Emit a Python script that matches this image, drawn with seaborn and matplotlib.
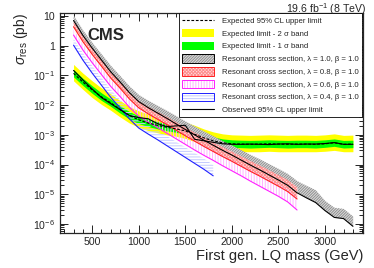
import numpy as np
import pandas as pd
import matplotlib
matplotlib.use("Agg")
import matplotlib.pyplot as plt
import seaborn as sns
from matplotlib.patches import Patch
from matplotlib.lines import Line2D
from matplotlib.ticker import FixedLocator, FixedFormatter, MultipleLocator

# ---- data, cross sections in pb ----
mass_lim = list(range(300, 3301, 100))

expected = [0.118, 0.060, 0.033, 0.019, 0.012, 7.1e-3, 4.5e-3, 3.2e-3, 2.5e-3, 2.1e-3,
            1.8e-3, 1.6e-3, 1.35e-3, 1.05e-3, 7.9e-4, 6.3e-4, 5.4e-4, 5.0e-4,
            4.9e-4, 4.8e-4, 4.9e-4, 5.0e-4, 4.9e-4, 4.8e-4, 4.9e-4, 4.9e-4, 4.8e-4,
            5.0e-4, 5.4e-4, 4.8e-4, 4.9e-4]
one_sig_up = [0.159, 0.081, 0.045, 0.026, 0.016, 9.6e-3, 6.1e-3, 4.3e-3, 3.4e-3, 2.8e-3,
              2.4e-3, 2.2e-3, 1.8e-3, 1.4e-3, 1.07e-3, 8.5e-4, 7.3e-4, 6.8e-4,
              6.6e-4, 6.5e-4, 6.6e-4, 6.8e-4, 6.6e-4, 6.5e-4, 6.6e-4, 6.6e-4, 6.5e-4,
              6.8e-4, 7.3e-4, 6.5e-4, 6.6e-4]
one_sig_dn = [0.090, 0.046, 0.025, 0.0144, 9.1e-3, 5.4e-3, 3.4e-3, 2.4e-3, 1.9e-3, 1.6e-3,
              1.37e-3, 1.22e-3, 1.03e-3, 8.0e-4, 6.0e-4, 4.8e-4, 4.1e-4, 3.8e-4,
              3.7e-4, 3.6e-4, 3.7e-4, 3.8e-4, 3.7e-4, 3.6e-4, 3.7e-4, 3.7e-4, 3.6e-4,
              3.8e-4, 4.1e-4, 3.6e-4, 3.7e-4]
two_sig_up = [0.236, 0.120, 0.066, 0.038, 0.024, 0.0142, 9.0e-3, 6.4e-3, 5.0e-3, 4.2e-3,
              3.6e-3, 3.2e-3, 2.7e-3, 2.1e-3, 1.58e-3, 1.26e-3, 1.08e-3, 1.0e-3,
              9.8e-4, 9.6e-4, 9.8e-4, 1.0e-3, 9.8e-4, 9.6e-4, 9.8e-4, 9.8e-4, 9.6e-4,
              1.0e-3, 1.08e-3, 9.6e-4, 9.8e-4]
two_sig_dn = [0.066, 0.034, 0.018, 0.0106, 6.7e-3, 4.0e-3, 2.5e-3, 1.8e-3, 1.4e-3, 1.18e-3,
              1.0e-3, 9.0e-4, 7.6e-4, 5.9e-4, 4.4e-4, 3.5e-4, 3.0e-4, 2.8e-4,
              2.7e-4, 2.7e-4, 2.7e-4, 2.8e-4, 2.7e-4, 2.7e-4, 2.7e-4, 2.7e-4, 2.7e-4,
              2.8e-4, 3.0e-4, 2.7e-4, 2.7e-4]
observed = [0.148, 0.071, 0.035, 0.018, 0.0112, 7.1e-3, 4.5e-3, 3.8e-3, 3.5e-3, 2.4e-3,
            1.9e-3, 2.0e-3, 2.1e-3, 7.1e-4, 6.3e-4, 5.6e-4, 5.0e-4, 4.8e-4,
            4.8e-4, 4.9e-4, 4.8e-4, 4.7e-4, 4.9e-4, 5.0e-4, 4.8e-4, 4.9e-4, 4.9e-4,
            5.1e-4, 5.5e-4, 4.8e-4, 4.8e-4]

# resonant cross sections, log10(pb), central line and upper edge of the hatched band
mass_res = list(range(300, 3301, 100))
res_l10 = [0.85, 0.35, -0.08, -0.48, -0.88, -1.22, -1.58, -1.88, -2.08, -2.26, -2.44,
           -2.63, -2.82, -3.00, -3.18, -3.35, -3.52, -3.68, -3.85, -4.02, -4.18,
           -4.35, -4.52, -4.70, -4.95, -5.12, -5.28, -5.55, -5.78, -5.82, -6.08]
res_l10_up = [1.02, 0.53, 0.11, -0.28, -0.67, -1.01, -1.36, -1.65, -1.84, -2.01, -2.18,
              -2.36, -2.54, -2.71, -2.88, -3.04, -3.20, -3.35, -3.51, -3.67, -3.82,
              -3.98, -4.14, -4.31, -4.55, -4.71, -4.86, -5.22, -5.45, -5.49, -5.74]
mass_l08 = list(range(300, 2701, 100))
res_l08 = [0.64, 0.14, -0.29, -0.69, -1.09, -1.43, -1.79, -2.09, -2.29, -2.47, -2.65,
           -2.84, -3.03, -3.21, -3.39, -3.56, -3.73, -3.89, -4.06, -4.23, -4.39,
           -4.56, -4.73, -4.91, -5.16]
res_l08_up = [0.81, 0.32, -0.10, -0.49, -0.88, -1.22, -1.57, -1.86, -2.05, -2.22, -2.39,
              -2.57, -2.75, -2.92, -3.09, -3.25, -3.41, -3.56, -3.72, -3.88, -4.03,
              -4.19, -4.35, -4.52, -4.76]
mass_l06 = list(range(300, 2701, 100))
res_l06 = [0.36, -0.14, -0.57, -0.97, -1.37, -1.71, -2.07, -2.37, -2.57, -2.75, -2.94,
           -3.13, -3.32, -3.51, -3.69, -3.86, -4.04, -4.21, -4.38, -4.56, -4.73,
           -4.90, -5.07, -5.26, -5.53]
res_l06_up = [0.55, 0.06, -0.36, -0.75, -1.14, -1.47, -1.82, -2.11, -2.30, -2.47, -2.65,
              -2.83, -3.01, -3.19, -3.36, -3.52, -3.69, -3.85, -4.01, -4.18, -4.34,
              -4.50, -4.66, -4.84, -5.10]
mass_l04 = list(range(300, 1801, 100))
res_l04 = [0.02, -0.48, -0.92, -1.33, -1.74, -2.09, -2.46, -2.77, -2.97, -3.16, -3.36,
           -3.56, -3.76, -3.96, -4.16, -4.38]
res_l04_up = [0.24, -0.25, -0.68, -1.08, -1.48, -1.82, -2.18, -2.48, -2.67, -2.85, -3.04,
              -3.23, -3.42, -3.61, -3.80, -4.01]

legend_labels = ["Expected 95% CL upper limit",
                 "Expected limit - 2 σ band",
                 "Expected limit - 1 σ band",
                 "Resonant cross section, λ = 1.0, β = 1.0",
                 "Resonant cross section, λ = 0.8, β = 1.0",
                 "Resonant cross section, λ = 0.6, β = 1.0",
                 "Resonant cross section, λ = 0.4, β = 1.0",
                 "Observed 95% CL upper limit"]

sns.set_style("ticks")
plt.rcParams["font.family"] = ["Liberation Sans", "DejaVu Sans"]
plt.rcParams["mathtext.fontset"] = "custom"
plt.rcParams["mathtext.rm"] = "Liberation Sans"
plt.rcParams["mathtext.it"] = "Liberation Sans:italic"
plt.rcParams["mathtext.bf"] = "Liberation Sans:bold"
plt.rcParams["hatch.linewidth"] = 0.7

fig = plt.figure(figsize=(3.74, 2.68), dpi=100)
ax = fig.add_axes([0.160, 0.132, 0.811, 0.818])

lim = pd.DataFrame({"mass": mass_lim, "exp": expected, "obs": observed,
                    "u1": one_sig_up, "d1": one_sig_dn, "u2": two_sig_up, "d2": two_sig_dn})

ax.fill_between(lim["mass"], lim["d2"], lim["u2"], color="#ffff00", lw=0, zorder=1)
ax.fill_between(lim["mass"], lim["d1"], lim["u1"], color="#00ff00", lw=0, zorder=2)

# (mass, central, upper, line colour, fill tint, hatch colour, hatch)
res_sets = [
    (mass_res, res_l10, res_l10_up, "black", "#dcdcdc", "#909090", "/" * 12),
    (mass_l08, res_l08, res_l08_up, "#ff2020", "#ffdede", "#ff8c8c", "x" * 10),
    (mass_l06, res_l06, res_l06_up, "#ff20ff", "none", "#ffb4ff", "|" * 6),
    (mass_l04, res_l04, res_l04_up, "#2020ff", "none", "#c4cbff", "-" * 6),
]
handles = [
    Line2D([], [], color="black", lw=0.8, ls=(0, (2.5, 1.5))),
    Patch(facecolor="#ffff00", edgecolor="none"),
    Patch(facecolor="#00ff00", edgecolor="none"),
]
for m, c, u, lc, fc, hc, hatch in res_sets:
    central = 10 ** np.array(c)
    upper = 10 ** np.array(u)
    ax.fill_between(m, central, upper, facecolor=fc, lw=0, zorder=3)
    ax.fill_between(m, central, upper, facecolor="none", edgecolor=hc, hatch=hatch,
                    lw=0, zorder=3)
    sns.lineplot(x=m, y=central, color=lc, lw=0.8, ax=ax, zorder=4)
    handles.append((Patch(facecolor=fc if fc != "none" else "white", edgecolor="none"),
                    Patch(facecolor="none", edgecolor=hc, hatch=hatch, lw=0),
                    Patch(facecolor="none", edgecolor=lc, lw=0.7)))
handles.append(Line2D([], [], color="black", lw=0.8))

sns.lineplot(data=lim, x="mass", y="exp", color="black", lw=0.8, ls=(0, (2.5, 1.5)),
             ax=ax, zorder=5)
sns.lineplot(data=lim, x="mass", y="obs", color="black", lw=0.8, ax=ax, zorder=5)

ax.set_yscale("log")
ax.set_xlim(153, 3410)
ax.set_ylim(5.1e-7, 12.3)

yt = [1e-6, 1e-5, 1e-4, 1e-3, 1e-2, 1e-1, 1, 10]
ax.yaxis.set_major_locator(FixedLocator(yt))
ax.yaxis.set_major_formatter(FixedFormatter(
    ["$10^{-6}$", "$10^{-5}$", "$10^{-4}$", "$10^{-3}$", "$10^{-2}$", "$10^{-1}$", "1", "10"]))
ax.xaxis.set_major_locator(MultipleLocator(500))
ax.xaxis.set_minor_locator(MultipleLocator(100))
ax.tick_params(which="both", direction="in", top=True, right=True, labelsize=7.6,
               width=0.6, color="black")
ax.tick_params(which="major", length=6)
ax.tick_params(which="minor", length=3)
for s in ax.spines.values():
    s.set_linewidth(0.9)

ax.set_xlabel("First gen. LQ mass (GeV)", fontsize=10.5, loc="right", labelpad=1)
ax.set_ylabel("$\\sigma_{\\rm res}$ (pb)", fontsize=10, loc="top", labelpad=2)
fig.text(0.978, 0.995, "19.6 fb$^{-1}$ (8 TeV)", fontsize=7.6, ha="right", va="top")
ax.text(0.092, 0.935, "CMS", transform=ax.transAxes, fontsize=12, fontweight="bold",
        va="top", ha="left")

leg = ax.legend(handles, legend_labels, loc="upper right", bbox_to_anchor=(0.995, 1.0),
                fontsize=5.6, frameon=True, fancybox=False, edgecolor="black",
                framealpha=1, borderaxespad=0, handlelength=4.1, handleheight=1.3,
                labelspacing=0.5, borderpad=0.35, handletextpad=1.1)
leg.get_frame().set_linewidth(0.6)

fig.savefig("out.png", dpi=100)
